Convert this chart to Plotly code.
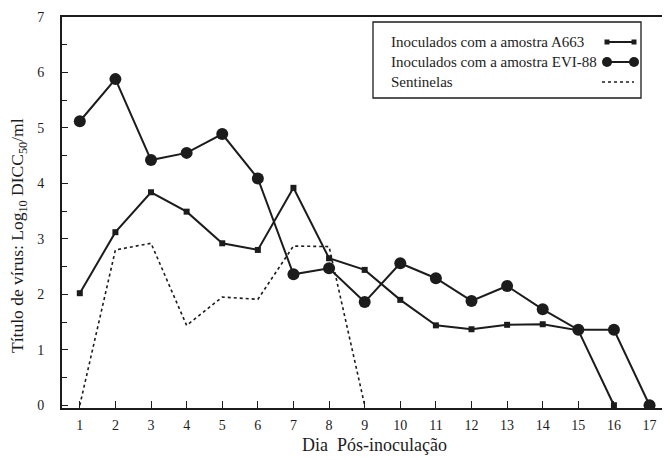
import plotly.graph_objects as go

days = list(range(1, 18))
a663 = [2.02, 3.12, 3.84, 3.49, 2.92, 2.80, 3.92, 2.65, 2.44, 1.90, 1.44, 1.37, 1.45, 1.46, 1.35, 0.0]
evi88 = [5.12, 5.88, 4.42, 4.55, 4.89, 4.09, 2.36, 2.47, 1.86, 2.56, 2.29, 1.88, 2.15, 1.73, 1.36, 1.36, 0.0]
sentinelas = [0.0, 2.80, 2.92, 1.44, 1.95, 1.91, 2.87, 2.86, 0.0]

names = ["Inoculados com a amostra A663", "Inoculados com a amostra EVI-88", "Sentinelas"]
x_ticks = list(range(1, 18))
y_ticks = list(range(0, 8))
x_title = "Dia  Pós-inoculação"
y_title = "Título de vírus: Log<sub>10</sub> DICC<sub>50</sub>/ml"

ink = "#1c1c1c"
font_family = "Liberation Serif, Times New Roman, serif"

# page body has an 8px margin, so the figure is placed at (8, 8) in the window
OFF = 8
W, H = 670 - OFF, 460 - OFF
ML, MR, MT, MB = 62 - OFF, 8, 17 - OFF, 460 - 408
PW, PH = W - ML - MR, H - MT - MB


def px_x(px):
    return (px - OFF - ML) / PW


def px_y(py):
    return (H - MB - (py - OFF)) / PH


fig = go.Figure()
fig.add_trace(go.Scatter(x=days[:len(sentinelas)], y=sentinelas, mode="lines", name=names[2],
                         line=dict(color=ink, width=1.6, dash="dot"), showlegend=False))
fig.add_trace(go.Scatter(x=days[:len(a663)], y=a663, mode="lines+markers", name=names[0],
                         line=dict(color=ink, width=2), marker=dict(symbol="square", size=6, color=ink),
                         showlegend=False))
fig.add_trace(go.Scatter(x=days[:len(evi88)], y=evi88, mode="lines+markers", name=names[1],
                         line=dict(color=ink, width=2), marker=dict(symbol="circle", size=12, color=ink),
                         showlegend=False))

# custom legend (text left, sample right), in paper coordinates
fig.add_shape(type="rect", xref="paper", yref="paper", x0=px_x(373), x1=px_x(641), y0=px_y(98), y1=px_y(22),
              line=dict(color=ink, width=1.3), fillcolor="white", layer="above")
rows = [px_y(42), px_y(62), px_y(82)]
sx0, sx1 = px_x(607), px_x(634)
for i, (nm, ry) in enumerate(zip(names, rows)):
    fig.add_annotation(text=nm, xref="paper", yref="paper", x=px_x(389), y=ry, xanchor="left",
                       yanchor="middle", showarrow=False, font=dict(family=font_family, size=15, color=ink))
    dash = "dot" if i == 2 else "solid"
    fig.add_shape(type="line", xref="paper", yref="paper", x0=px_x(602) if i == 2 else sx0, x1=sx1,
                  y0=ry, y1=ry, line=dict(color=ink, width=2 if i < 2 else 1.3, dash=dash), layer="above")
    if i < 2:
        r = 2.5 if i == 0 else 5
        for sx in (sx0, sx1):
            fig.add_shape(type="rect" if i == 0 else "circle", xref="paper", yref="paper",
                          xsizemode="pixel", ysizemode="pixel", xanchor=sx, yanchor=ry,
                          x0=-r, x1=r, y0=-r, y1=r, fillcolor=ink, line=dict(color=ink, width=0),
                          layer="above")

# axis titles
fig.add_annotation(text=x_title, xref="paper", yref="paper", x=px_x(375), y=px_y(445),
                   xanchor="center", yanchor="middle", showarrow=False,
                   font=dict(family=font_family, size=18, color=ink))
fig.add_annotation(text=y_title, xref="paper", yref="paper", x=px_x(18), y=px_y(236),
                   xanchor="center", yanchor="middle", textangle=-90, showarrow=False,
                   font=dict(family=font_family, size=17.5, color=ink))

fig.update_layout(
    width=W, height=H,
    margin=dict(l=ML, r=MR, t=MT, b=MB),
    paper_bgcolor="white", plot_bgcolor="white",
    font=dict(family=font_family, size=14, color=ink),
    showlegend=False,
)
fig.update_xaxes(range=[0.5, 17.35], tickvals=x_ticks, ticktext=[str(v) for v in x_ticks],
                 ticks="inside", ticklen=7, tickwidth=1, tickcolor=ink,
                 showline=True, linecolor=ink, linewidth=1.8, mirror=True,
                 showgrid=False, zeroline=False, ticklabelstandoff=3, automargin=False,
                 tickfont=dict(size=14))
fig.update_yaxes(range=[-0.05, 7], tickvals=y_ticks, ticktext=[str(v) for v in y_ticks],
                 ticks="inside", ticklen=6, tickwidth=1, tickcolor=ink,
                 minor=dict(dtick=0.5, ticks="inside", ticklen=5, tickcolor=ink, showgrid=False),
                 showline=True, linecolor=ink, linewidth=1.8, mirror=True,
                 showgrid=False, zeroline=False, ticklabelstandoff=13, automargin=False,
                 tickfont=dict(size=14))

fig.write_html("out.html")
